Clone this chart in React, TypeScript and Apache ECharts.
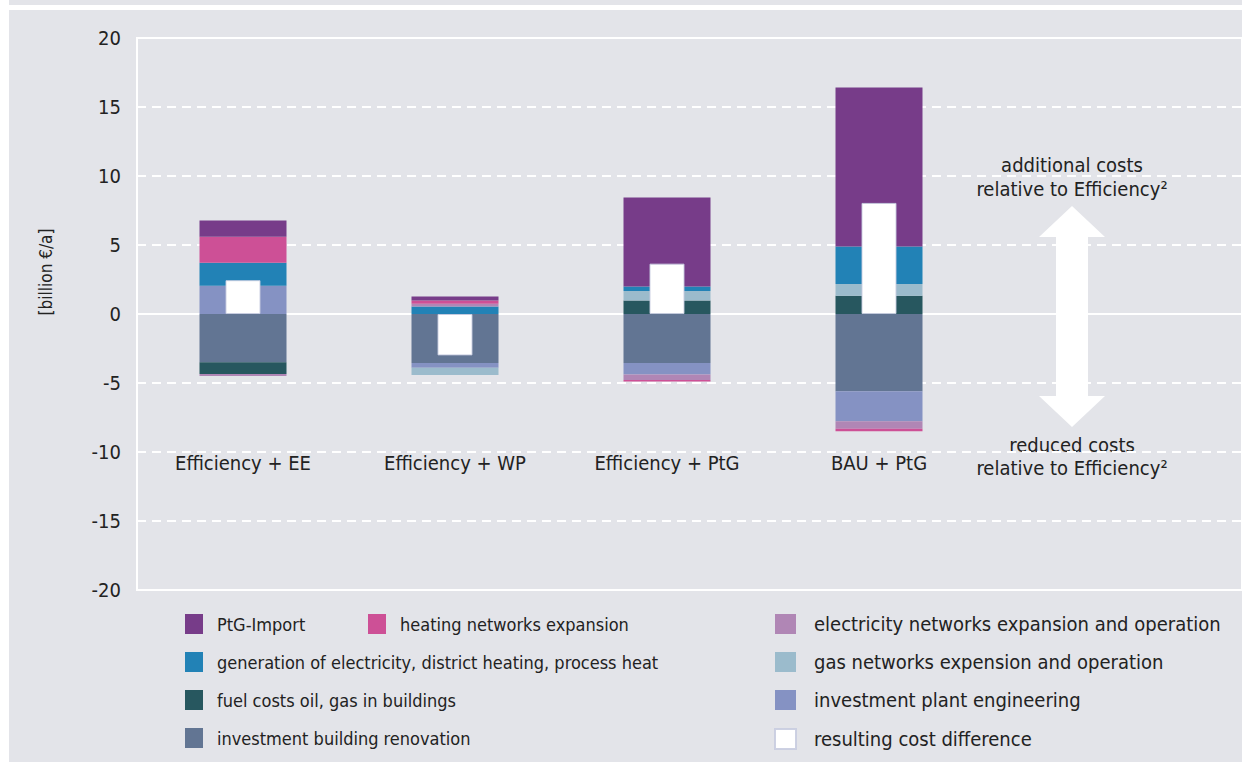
import React, { useEffect, useRef } from "react";
import * as echarts from "echarts";

const categories = ["Efficiency + EE", "Efficiency + WP", "Efficiency + PtG", "BAU + PtG", ""];
const yTicks = { min: -20, max: 20, interval: 5 };

// stacking order (from zero outward)
const renovation = [-3.5, -3.55, -3.55, -5.6, null];
const fuel = [-0.85, null, 0.97, 1.33, null];
const plant = [2.05, -0.34, -0.84, -2.17, null];
const gas = [null, -0.53, 0.7, 0.85, null];
const generation = [1.67, 0.55, 0.33, 2.72, null];
const elecNet = [-0.15, 0.2, -0.39, -0.55, null];
const heatNet = [1.88, 0.22, -0.12, -0.17, null];
const ptgImport = [1.18, 0.29, 6.45, 11.52, null];
const resulting = [2.45, -3.0, 3.65, 8.05, null];

const names = {
  ptg: "PtG-Import",
  heat: "heating networks expansion",
  elec: "electricity networks expansion and operation",
  gen: "generation of electricity, district heating, process heat",
  gas: "gas networks expension and operation",
  fuel: "fuel costs oil, gas in buildings",
  plant: "investment plant engineering",
  reno: "investment building renovation",
  res: "resulting cost difference",
};

const FONT = "'Liberation Sans Narrow', 'DejaVu Sans Condensed', 'Noto Sans', sans-serif";
const TXT = "#222222";

export default function App() {
  const ref = useRef<HTMLDivElement>(null);
  useEffect(() => {
    if (!ref.current) return;
    const chart = echarts.init(ref.current, undefined, { renderer: "svg" });
    const stackSeries = (name: string, data: any[], color: string) => ({
      type: "bar",
      name,
      data,
      stack: "total",
      xAxisIndex: 1,
      yAxisIndex: 1,
      barWidth: 87,
      itemStyle: { color },
    });
    const legendBase = {
      orient: "vertical",
      top: 614,
      padding: 0,
      itemWidth: 18,
      itemHeight: 20,
      itemGap: 18,
      selectedMode: false,
      icon: "rect",
      textStyle: { fontSize: 18, color: TXT, fontFamily: FONT, padding: [0, 0, 0, 9] },
    };
    const ann = (text: string, y: number) => ({
      type: "text", x: 1072, y,
      style: { text, fontSize: 20, fill: TXT, fontFamily: FONT, textAlign: "center", textVerticalAlign: "middle" },
    });
    chart.setOption({
      animation: false,
      textStyle: { fontFamily: FONT },
      grid: [
        { left: 137, right: 0, top: 38, bottom: 172, show: true, borderColor: "#ffffff", borderWidth: 2, backgroundColor: "transparent" },
        { left: 137, right: 45, top: 38, bottom: 172 },
      ],
      xAxis: [
        {
          type: "value", gridIndex: 0, min: 0, max: 1, show: true,
          axisLine: { show: true, onZero: true, lineStyle: { color: "#ffffff", width: 2 } },
          axisTick: { show: false }, axisLabel: { show: false }, splitLine: { show: false },
        },
        {
          type: "category", gridIndex: 1, data: categories, position: "bottom", offset: -127,
          axisLine: { show: false }, axisTick: { show: false },
          axisLabel: { fontSize: 20, color: TXT, fontFamily: FONT, margin: 0, verticalAlign: "middle", interval: 0 },
        },
        {
          type: "category", gridIndex: 1, data: categories, show: false,
        },
      ],
      yAxis: [
        {
          type: "value", gridIndex: 0, min: yTicks.min, max: yTicks.max, interval: yTicks.interval,
          axisLine: { show: true, lineStyle: { color: "#ffffff", width: 2 } },
          axisTick: { show: false },
          axisLabel: { fontSize: 20, color: TXT, fontFamily: FONT, margin: 16 },
          splitLine: { show: true, lineStyle: { color: "#ffffff", width: 2, type: [9, 6] } },
        },
        { type: "value", gridIndex: 1, min: yTicks.min, max: yTicks.max, show: false, splitLine: { show: false } },
      ],
      legend: [
        { ...legendBase, left: 185, data: [names.ptg, names.gen, names.fuel, names.reno] },
        { ...legendBase, left: 368, data: [names.heat] },
        {
          ...legendBase, left: 774, itemWidth: 21,
          textStyle: { fontSize: 20, color: TXT, fontFamily: FONT, padding: [0, 0, 0, 13] },
          data: [names.elec, names.gas, names.plant, names.res],
        },
      ],
      series: [
        stackSeries(names.reno, renovation, "#627593"),
        stackSeries(names.fuel, fuel, "#27575f"),
        stackSeries(names.plant, plant, "#8592c3"),
        stackSeries(names.gas, gas, "#9bbbcc"),
        stackSeries(names.gen, generation, "#2282b6"),
        stackSeries(names.elec, elecNet, "#b086b5"),
        stackSeries(names.heat, heatNet, "#cd5096"),
        stackSeries(names.ptg, ptgImport, "#773c89"),
        {
          type: "bar", name: names.res, data: resulting, xAxisIndex: 2, yAxisIndex: 1, barWidth: 35, z: 5,
          itemStyle: { color: "#ffffff", borderColor: "rgba(200,204,224,0.9)", borderWidth: 1 },
        },
      ],
      graphic: [
        {
          type: "text", x: 46, y: 272, rotation: Math.PI / 2,
          style: { text: "[billion €/a]", fontSize: 17, fill: TXT, fontFamily: FONT, textAlign: "center", textVerticalAlign: "middle" },
        },
        {
          type: "polygon",
          shape: {
            points: [
              [1072, 206], [1105, 237], [1088, 237], [1088, 396], [1105, 396],
              [1072, 427], [1039, 396], [1056, 396], [1056, 237], [1039, 237],
            ],
          },
          style: { fill: "#ffffff" },
          z: 10,
        },
        ann("additional costs", 165),
        ann("relative to Efficiency²", 189),
        ann("reduced costs", 445),
        ann("relative to Efficiency²", 468),
      ],
    });
    return () => chart.dispose();
  }, []);
  return (
    <div style={{ position: "fixed", left: 0, top: 0, width: 1242, height: 762, background: "#ffffff", overflow: "hidden" }}>
      <div style={{ position: "absolute", left: 9, top: 0, width: 1233, height: 5, background: "#e3e4e9" }} />
      <div style={{ position: "absolute", left: 9, top: 10, width: 1233, height: 752, background: "#e3e4e9" }} />
      <div ref={ref} style={{ position: "absolute", left: 0, top: 0, width: 1242, height: 762 }} />
    </div>
  );
}
